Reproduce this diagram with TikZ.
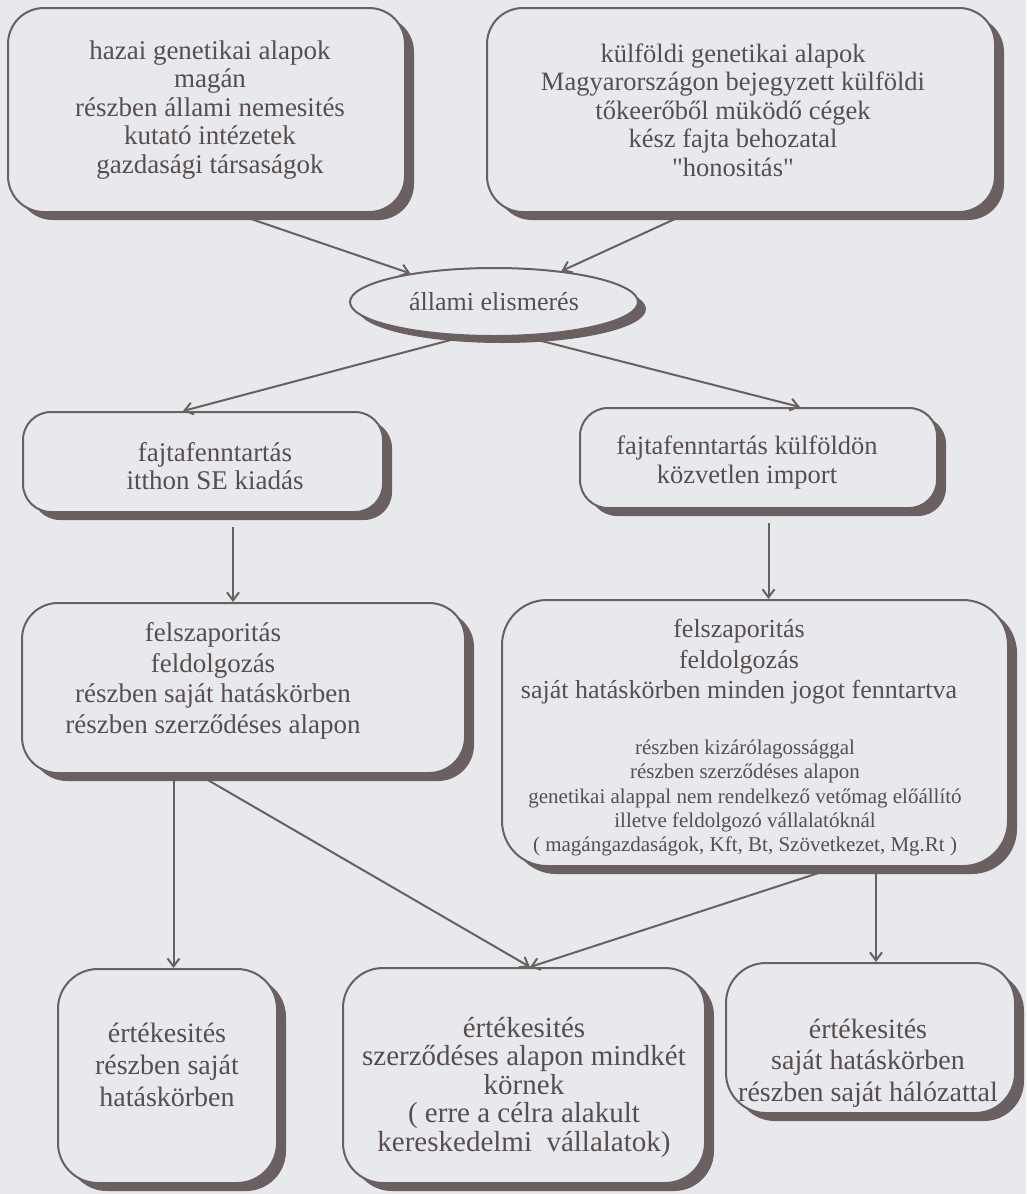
\documentclass[tikz,border=0pt]{standalone}
\usepackage{fontspec}
\setmainfont{Liberation Serif}[Ligatures=TeXOff]
\usetikzlibrary{shapes.geometric,shadows,arrows.meta,calc}
\definecolor{bg}{HTML}{E8E9EC}
\definecolor{ink}{HTML}{6A5F61}
\definecolor{txt}{HTML}{584D50}
\begin{document}
\begin{tikzpicture}[x=1pt,y=-1pt,
  box/.style={draw=ink, line width=2pt, fill=bg, rounded corners=36pt, inner sep=0pt,
    drop shadow={shadow xshift=9pt, shadow yshift=-8pt, fill=ink, opacity=1}},
  ovalbox/.style={ellipse, draw=ink, line width=2pt, fill=bg, inner sep=0pt,
    drop shadow={shadow xshift=8pt, shadow yshift=-7pt, fill=ink, opacity=1}},
  lbl/.style={text=txt, align=center, inner sep=0pt},
  big/.style={font=\fontsize{27}{28.5}\selectfont},
  conn/.style={draw=ink, line width=2pt, -{Straight Barb[length=8pt,width=12pt,line width=2pt]}},
]
\fill[bg] (0,0) rectangle (1026,1194);
\useasboundingbox (0,0) rectangle (1026,1194);

% boxes
\node[box, minimum width=397pt, minimum height=204pt] (b1) at (206.5,110) {};
\node[box, minimum width=508pt, minimum height=204pt] (b2) at (741,110) {};
\node[ovalbox, minimum width=288pt, minimum height=68pt, text=txt,
  font=\fontsize{26}{28.5}\selectfont] (el) at (494,302) {állami elismerés};
\node[box, rounded corners=28pt, minimum width=360pt, minimum height=100pt] (b3) at (203,462) {};
\node[box, rounded corners=28pt, minimum width=357pt, minimum height=100pt] (b4) at (758.5,458) {};
\node[box, minimum width=443pt, minimum height=170pt] (b5) at (243.5,688) {};
\node[box, rounded corners=45pt, minimum width=506pt, minimum height=266pt] (b6) at (755,733) {};
\node[box, rounded corners=40pt, minimum width=219pt, minimum height=214pt] (b7) at (167.5,1076) {};
\node[box, rounded corners=40pt, minimum width=362pt, minimum height=215pt] (b8) at (524,1075.5) {};
\node[box, rounded corners=40pt, minimum width=289pt, minimum height=150pt] (b9) at (870.5,1038) {};

% texts
\node[lbl, big] (t1) at (210,110) {hazai genetikai alapok\\magán\\részben állami nemesités\\kutató intézetek\\gazdasági társaságok};
\node[lbl, font=\fontsize{26.5}{28.5}\selectfont] (t2) at (733,110) {külföldi genetikai alapok\\Magyarországon bejegyzett külföldi\\tőkeerőből müködő cégek\\kész fajta behozatal\\"honositás"};
\node[lbl, big] (t3) at (215,466) {fajtafenntartás\\itthon SE kiadás};
\node[lbl, font=\fontsize{26.5}{29}\selectfont] (t4) at (747,462) {fajtafenntartás külföldön\\közvetlen import};
\node[lbl, font=\fontsize{27}{30.5}\selectfont] (t5) at (213,681) {felszaporitás\\feldolgozás\\részben saját hatáskörben\\részben szerződéses alapon};
\node[lbl, font=\fontsize{26}{30.5}\selectfont] (t6a) at (739,662) {felszaporitás\\feldolgozás\\saját hatáskörben minden jogot fenntartva};
\node[lbl, font=\fontsize{21}{24.3}\selectfont] (t6b) at (745,798) {részben kizárólagossággal\\részben szerződéses alapon\\genetikai alappal nem rendelkező vetőmag előállító\\illetve feldolgozó vállalatóknál\\( magángazdaságok, Kft, Bt, Szövetkezet, Mg.Rt )};
\node[lbl, font=\fontsize{28}{32}\selectfont] (t7) at (167,1065) {értékesités\\részben saját\\hatáskörben};
\node[lbl, font=\fontsize{29}{28.5}\selectfont] (t8) at (524,1087) {értékesités\\szerződéses alapon mindkét\\körnek\\( erre a célra alakult\\kereskedelmi\ \ vállalatok)};
\node[lbl, font=\fontsize{28}{31.5}\selectfont] (t9) at (868,1063) {értékesités\\saját hatáskörben\\részben saját hálózattal};

% connectors
\draw[conn] ([xshift=27pt]b1.south) -- (el);
\draw[conn] ([xshift=-53pt]b2.south) -- (el);
\draw[conn] ([xshift=-32pt]el.south) -- ([xshift=-20pt]b3.north);
\draw[conn] ([xshift=32pt]el.south) -- ([xshift=41.5pt]b4.north);
\draw[conn, shorten <=14pt] ([xshift=30pt]b3.south) -- ([xshift=30pt]b3.south |- b5.north);
\draw[conn, shorten <=14pt] ([xshift=10pt]b4.south) -- ([xshift=10pt]b4.south |- b6.north);
\draw[conn] ([xshift=-70pt]b5.south) -- ([xshift=-70pt]b5.south |- b7.north);
\draw[conn] ([xshift=-46pt]b5.south) -- ([xshift=6pt]b8.north);
\draw[conn] ([xshift=82pt]b6.south) -- ([xshift=6pt]b8.north);
\draw[conn] ([xshift=121pt]b6.south) -- ([xshift=121pt]b6.south |- b9.north);
\end{tikzpicture}
\end{document}
